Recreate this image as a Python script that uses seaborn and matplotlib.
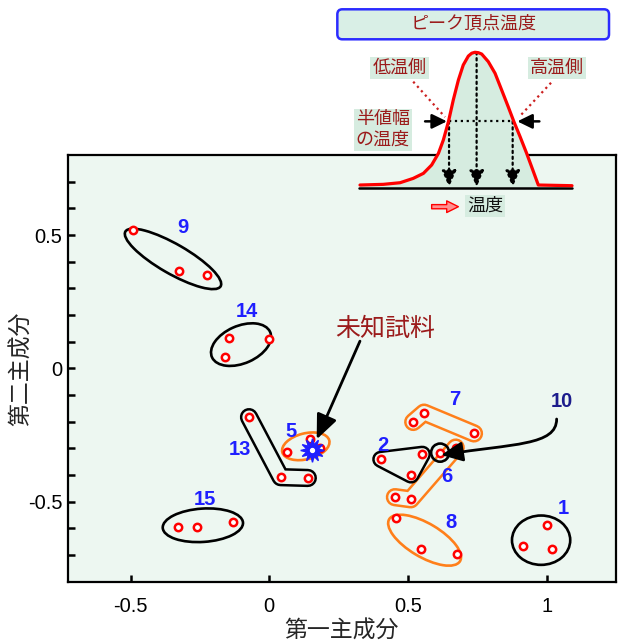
import numpy as np
import pandas as pd
import seaborn as sns
import matplotlib.pyplot as plt
import matplotlib.patheffects as pe
from matplotlib.patches import Ellipse, Polygon, FancyBboxPatch, FancyArrowPatch
from matplotlib.path import Path

# principal component scores, one row per sample
group = [1, 1, 1, 2, 2, 2, 5, 5, 5, 6, 6, 6, 7, 7, 7, 8, 8, 8,
         9, 9, 9, 10, 13, 13, 13, 14, 14, 14, 15, 15, 15]
pc1 = [1.003, 0.916, 1.021, 0.402, 0.552, 0.511, 0.065, 0.147, 0.183,
       0.672, 0.510, 0.453, 0.519, 0.558, 0.738, 0.456, 0.548, 0.676,
       -0.490, -0.326, -0.225, 0.616, -0.073, 0.041, 0.139,
       -0.144, -0.159, -0.002, -0.328, -0.261, -0.129]
pc2 = [-0.588, -0.666, -0.679, -0.341, -0.322, -0.400, -0.314, -0.266, -0.297,
       -0.297, -0.491, -0.483, -0.201, -0.166, -0.244, -0.561, -0.676, -0.696,
       0.517, 0.365, 0.349, -0.316, -0.183, -0.408, -0.411,
       0.115, 0.042, 0.110, -0.595, -0.594, -0.576]
unknown_pc1 = 0.153
unknown_pc2 = -0.307

# schematic peak in the inset
peak_temp = [0, 11.0, 18.9, 25.1, 29.9, 33.8, 37.0, 39.3, 41.7, 44.0, 46.4, 48.7,
             51.1, 52.7, 54.2, 55.8, 57.4, 60.5, 63.7, 66.8, 69.9, 72.6, 75.5,
             78.6, 81.5, 84.1, 100]
peak_int = [0.02, 0.025, 0.037, 0.069, 0.106, 0.168, 0.254, 0.352, 0.487, 0.648,
            0.795, 0.906, 0.972, 0.993, 1.0, 0.997, 0.987, 0.931, 0.845, 0.722,
            0.598, 0.487, 0.377, 0.254, 0.131, 0.02, 0.015]
mark_temp = [42, 55, 72]
mark_int = [0.49, 1.0, 0.49]

df = pd.DataFrame({'group': group, 'pc1': pc1, 'pc2': pc2})

BG = '#edf7f1'
GREEN = '#d6ece0'
DARKRED = '#9b1b1b'
BLUE = '#1f1fff'
ORANGE = '#ff7f1a'

sns.set_style('ticks')
plt.rcParams['font.family'] = ['Liberation Sans', 'Noto Sans CJK JP']
plt.rcParams['axes.unicode_minus'] = False

fig = plt.figure(figsize=(6.21, 6.41), dpi=100)
ax = fig.add_axes([0.1093, 0.0925, 0.8822, 0.6657])
ax.set_facecolor(BG)

# enclosures
capsules = {13: 'black', 7: ORANGE, 6: ORANGE}
for g, col in capsules.items():
    d = df[df.group == g]
    ax.plot(d.pc1, d.pc2, color=BG, lw=9.6, solid_capstyle='round',
            solid_joinstyle='round', zorder=2,
            path_effects=[pe.Stroke(linewidth=13.2, foreground=col,
                                    capstyle='round', joinstyle='round'),
                          pe.Normal()])

d2 = df[df.group == 2][['pc1', 'pc2']].values
ax.add_patch(Polygon(d2, closed=True, fc='black', ec='black', lw=12.4,
                     joinstyle='round', zorder=2))
ax.add_patch(Polygon(d2, closed=True, fc=BG, ec=BG, lw=8.8,
                     joinstyle='round', zorder=2))

ellipses = {9: (0.40, 0.11, -31, 'black'), 14: (0.23, 0.14, 25, 'black'),
            15: (0.29, 0.125, 4, 'black'), 1: (0.21, 0.185, 0, 'black'),
            8: (0.30, 0.125, -32, ORANGE), 5: (0.175, 0.097, 15, ORANGE),
            10: (0.065, 0.068, 0, 'black')}
for g, (w, h, a, col) in ellipses.items():
    d = df[df.group == g]
    ax.add_patch(Ellipse((d.pc1.mean(), d.pc2.mean()), w, h, angle=a,
                         fill=False, ec=col, lw=1.9, zorder=3))

sns.scatterplot(data=df, x='pc1', y='pc2', ax=ax, marker='o', s=28,
                color='white', edgecolor='red', linewidth=1.8, zorder=6)
ax.plot(unknown_pc1, unknown_pc2, marker=(12, 1, 0), ms=17, color=BLUE,
        mec=BLUE, zorder=7)
ax.plot(unknown_pc1, unknown_pc2, 'o', ms=2.8, color='white', mec='white', zorder=8)

# cluster numbers
lab_pos = {1: (1.060, -0.526), 2: (0.409, -0.291), 5: (0.079, -0.235),
           6: (0.640, -0.406), 7: (0.670, -0.116), 8: (0.654, -0.579),
           9: (-0.312, 0.529), 13: (-0.105, -0.306), 14: (-0.081, 0.214),
           15: (-0.231, -0.491)}
for g, (lx, ly) in lab_pos.items():
    ax.text(lx, ly, str(g), color=BLUE, fontsize=14.5, fontweight='bold',
            ha='center', va='center', zorder=8)
ax.text(1.054, -0.123, '10', color='#1c1c8c', fontsize=14.5, fontweight='bold',
        ha='center', va='center', zorder=8)

arrow10 = Path([(1.036, -0.190), (1.036, -0.290), (0.880, -0.282), (0.620, -0.325)],
               [Path.MOVETO, Path.CURVE4, Path.CURVE4, Path.CURVE4])
ax.add_patch(FancyArrowPatch(path=arrow10,
                             arrowstyle='-|>,head_length=0.65,head_width=0.3',
                             mutation_scale=20, lw=2, color='black', zorder=9))
ax.text(0.417, 0.146, '未知試料', color=DARKRED, fontsize=18, ha='center',
        va='center', zorder=8)
ax.annotate('', xy=(0.171, -0.266), xytext=(0.327, 0.102),
            arrowprops=dict(arrowstyle='-|>,head_length=0.75,head_width=0.32',
                            mutation_scale=20, lw=2, color='black',
                            shrinkA=0, shrinkB=0), zorder=9)

ax.set_xlim(-0.726, 1.249)
ax.set_ylim(-0.80, 0.80)
ax.set_xticks([-0.5, 0, 0.5, 1])
ax.set_xticklabels(['-0.5', '0', '0.5', '1'])
ax.set_yticks([-0.5, 0, 0.5])
ax.set_yticklabels(['-0.5', '0', '0.5'])
ax.set_yticks([-0.7, -0.6, -0.4, -0.3, -0.2, -0.1, 0.1, 0.2, 0.3, 0.4, 0.6, 0.7],
              minor=True)
ax.tick_params(which='both', direction='in', length=5, width=1.8,
               labelsize=14.5, colors='black')
ax.tick_params(axis='x', pad=11)
ax.tick_params(axis='y', pad=4)
for s in ax.spines.values():
    s.set_linewidth(1.6)
    s.set_color('black')
ax.set_xlabel('第一主成分', fontsize=16.5)
ax.set_ylabel('第二主成分', fontsize=16.5)
ax.xaxis.set_label_coords(0.5, -0.088)
ax.yaxis.set_label_coords(-0.063, 0.5)

# inset: peak schematic
axi = fig.add_axes([0.5314, 0.6412, 0.4686, 0.3588])
axi.set_xlim(-14.15, 123.1)
axi.set_ylim(-0.312, 1.386)
axi.axis('off')
axi.patch.set_alpha(0)
axi.fill_between(peak_temp, peak_int, 0, color=GREEN, lw=0, zorder=1)
axi.plot([-0.3, 100], [0, 0], color='black', lw=1.8, zorder=3)
sns.lineplot(x=peak_temp, y=peak_int, ax=axi, color='red', lw=2.3, zorder=4)
axi.plot([mark_temp[0], mark_temp[2]], [mark_int[0], mark_int[2]], ':',
         color='black', lw=1.6, zorder=3)
for t, h in zip(mark_temp, mark_int):
    axi.annotate('', xy=(t, 0.005), xytext=(t, h),
                 arrowprops=dict(arrowstyle='-|>,head_length=0.5,head_width=0.22',
                                 mutation_scale=20, lw=1.6, ls=':', color='black',
                                 shrinkA=0, shrinkB=0), zorder=3)
axi.annotate('', xy=(41.0, 0.49), xytext=(30.7, 0.49),
             arrowprops=dict(arrowstyle='-|>,head_length=0.45,head_width=0.22',
                             mutation_scale=20, lw=1.8, color='black',
                             shrinkA=0, shrinkB=0), zorder=5)
axi.annotate('', xy=(74.2, 0.49), xytext=(84.6, 0.49),
             arrowprops=dict(arrowstyle='-|>,head_length=0.45,head_width=0.22',
                             mutation_scale=20, lw=1.8, color='black',
                             shrinkA=0, shrinkB=0), zorder=5)
axi.plot([25.1, 40.1], [0.783, 0.522], ':', color='#cc2020', lw=1.6, zorder=3)
axi.plot([90.1, 75.5], [0.775, 0.530], ':', color='#cc2020', lw=1.6, zorder=3)
lbl = dict(color=DARKRED, fontsize=13, ha='center', va='center', zorder=6,
           bbox=dict(boxstyle='square,pad=0.12', fc=GREEN, ec='none'))
axi.text(18.7, 0.884, '低温側', **lbl)
axi.text(92.8, 0.884, '高温側', **lbl)
axi.text(10.8, 0.426, '半値幅\nの温度', linespacing=1.25, **lbl)
axi.text(59.0, -0.135, '温度', color='#111111', fontsize=13, ha='center',
         va='center', zorder=6,
         bbox=dict(boxstyle='square,pad=0.12', fc=GREEN, ec='none'))
axi.annotate('', xy=(46.4, -0.140), xytext=(33.8, -0.140),
             arrowprops=dict(arrowstyle='simple,head_length=0.7,head_width=0.7,tail_width=0.25',
                             mutation_scale=12, fc='#ff9090', ec='red', lw=1,
                             shrinkA=0, shrinkB=0), zorder=6)

fig.add_artist(FancyBboxPatch((0.5432, 0.9387), 0.4375, 0.0468,
                              boxstyle='round,pad=0,rounding_size=0.008',
                              fc='#d9efe6', ec='#2b2bff', lw=1.8,
                              transform=fig.transFigure))
fig.text(0.762, 0.962, 'ピーク頂点温度', color=DARKRED, fontsize=13,
         ha='center', va='center')

fig.savefig('out.png', dpi=100)
